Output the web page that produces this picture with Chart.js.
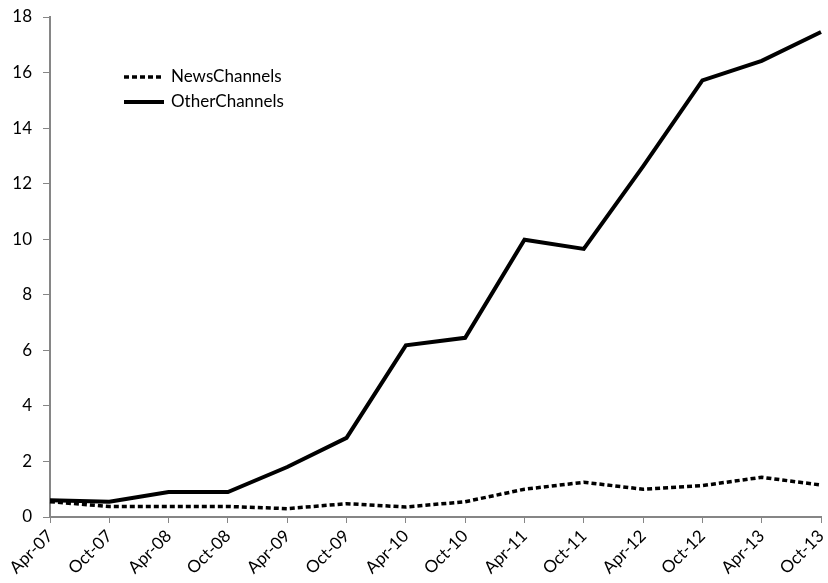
<!DOCTYPE html>
<html lang="en">
<head>
    <meta charset="UTF-8">
    <title>News vs Other Channels</title>
    <script src="https://cdn.jsdelivr.net/npm/chart.js"></script>
    <style>
        html, body {
            margin: 0;
            padding: 0;
            background: #fff;
        }

        .chart-container {
            position: relative;
            width: 828px;
            height: 583px;
        }
    </style>
</head>
<body>
    <div class="chart-container">
        <canvas id="channelChart"></canvas>
    </div>

    <script>
        // Data
        const periods = ['Apr-07', 'Oct-07', 'Apr-08', 'Oct-08', 'Apr-09', 'Oct-09', 'Apr-10',
                         'Oct-10', 'Apr-11', 'Oct-11', 'Apr-12', 'Oct-12', 'Apr-13', 'Oct-13'];
        const newsChannels = [0.55, 0.38, 0.38, 0.38, 0.3, 0.48, 0.36, 0.55, 1.0, 1.25, 1.0, 1.13, 1.43, 1.15];
        const otherChannels = [0.6, 0.55, 0.9, 0.9, 1.8, 2.85, 6.18, 6.45, 9.98, 9.65, 12.62, 15.72, 16.42, 17.46];
        const yTicks = [0, 2, 4, 6, 8, 10, 12, 14, 16, 18];

        const FONT = "Lato, 'Open Sans', sans-serif";
        const axisGrey = '#868686';

        // Legend drawn inside the plot area, like the original
        const insideLegend = {
            id: 'insideLegend',
            afterDraw(chart) {
                const ctx = chart.ctx;
                const x0 = 124, lineLen = 40;
                const rows = [77, 102];
                ctx.save();
                chart.data.datasets.forEach((ds, i) => {
                    const y = rows[i];
                    ctx.beginPath();
                    ctx.setLineDash(ds.borderDash || []);
                    ctx.lineWidth = ds.borderWidth;
                    ctx.strokeStyle = ds.borderColor;
                    ctx.moveTo(x0, y);
                    ctx.lineTo(x0 + lineLen, y);
                    ctx.stroke();
                    ctx.setLineDash([]);
                    ctx.fillStyle = '#000';
                    ctx.font = '17px ' + FONT;
                    ctx.textBaseline = 'middle';
                    ctx.fillText(ds.label, x0 + lineLen + 7, y);
                });
                ctx.restore();
            }
        };

        const ctx = document.getElementById('channelChart').getContext('2d');
        new Chart(ctx, {
            type: 'line',
            data: {
                labels: periods,
                datasets: [{
                    label: 'NewsChannels',
                    data: newsChannels,
                    borderColor: '#000',
                    borderWidth: 3.5,
                    borderDash: [5, 3],
                    pointRadius: 0,
                    tension: 0
                }, {
                    label: 'OtherChannels',
                    data: otherChannels,
                    borderColor: '#000',
                    borderWidth: 4,
                    pointRadius: 0,
                    tension: 0
                }]
            },
            options: {
                responsive: true,
                maintainAspectRatio: false,
                animation: false,
                layout: {
                    padding: { top: 17, right: 7, left: 0, bottom: 0 }
                },
                plugins: {
                    legend: { display: false },
                    tooltip: { enabled: false }
                },
                scales: {
                    x: {
                        offset: false,
                        grid: {
                            drawOnChartArea: false,
                            color: axisGrey,
                            tickLength: 6
                        },
                        border: { color: axisGrey, width: 2 },
                        ticks: {
                            color: '#000',
                            font: { family: FONT, size: 17 },
                            maxRotation: 45,
                            minRotation: 45,
                            autoSkip: false,
                            padding: 3
                        },
                        afterFit(scale) {
                            scale.height = 66;
                            scale.paddingLeft = 0;
                            scale.paddingRight = 0;
                        }
                    },
                    y: {
                        min: 0,
                        max: 18,
                        afterBuildTicks(scale) {
                            scale.ticks = yTicks.map(v => ({ value: v }));
                        },
                        grid: {
                            drawOnChartArea: false,
                            color: axisGrey,
                            tickLength: 7
                        },
                        border: { color: axisGrey, width: 2 },
                        ticks: {
                            color: '#000',
                            font: { family: FONT, size: 17 },
                            padding: 11
                        },
                        afterFit(scale) {
                            scale.width = 50;
                            scale.paddingTop = 0;
                            scale.paddingBottom = 0;
                        }
                    }
                }
            },
            plugins: [insideLegend]
        });
    </script>
</body>
</html>
